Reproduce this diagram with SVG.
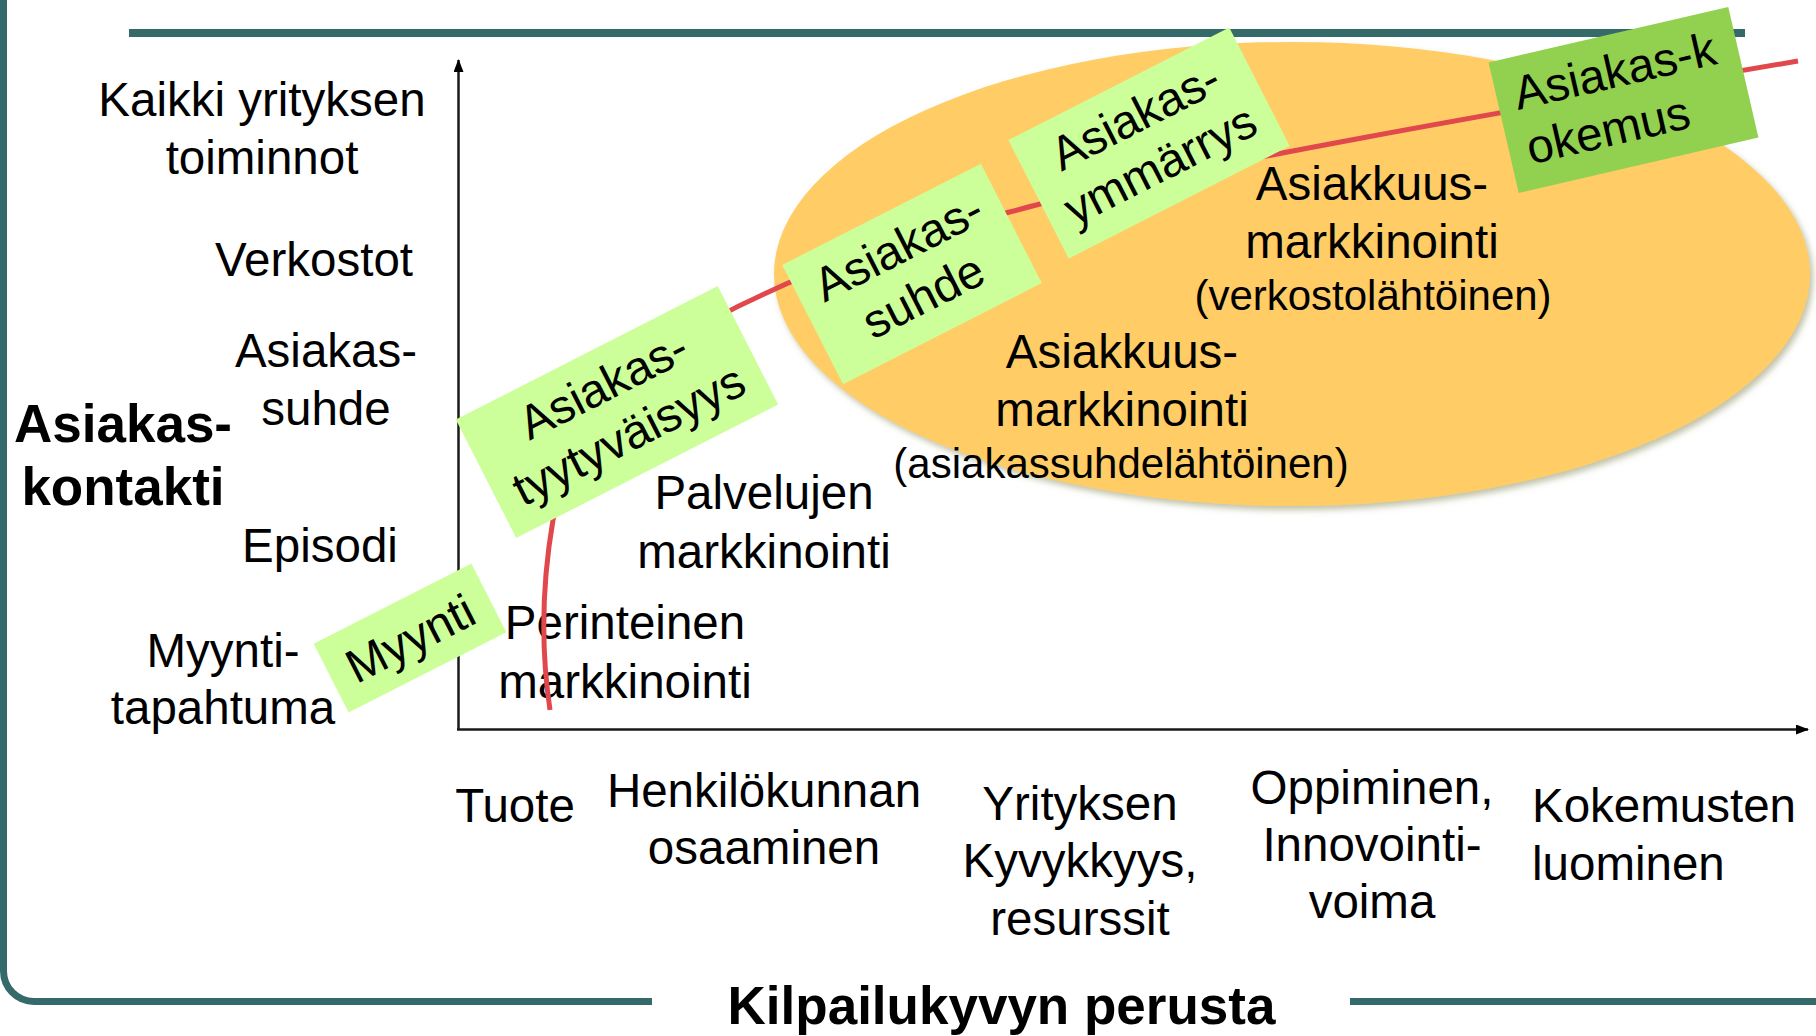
<svg xmlns="http://www.w3.org/2000/svg" width="1816" height="1036" viewBox="0 0 1816 1036">
<style>
text{font-family:"Liberation Sans",Arial,sans-serif;fill:#000;}
.t{font-size:47.5px;}
.m{text-anchor:middle;}
.b{font-size:53px;font-weight:bold;}
.s{font-size:42px;}
.frame{fill:none;stroke:#356A6A;stroke-width:7;}
.axis{fill:none;stroke:#1a1a1a;stroke-width:2.5;}
.box{fill:#CCFF99;}
.box2{fill:#92D050;}
.curve{fill:none;stroke:#E0484B;stroke-width:5;stroke-linecap:butt;}
</style>
<defs>
<marker id="arr" markerWidth="13" markerHeight="10" refX="12" refY="5" orient="auto" markerUnits="userSpaceOnUse">
<path d="M0,0 L13,5 L0,10 z" fill="#000"/>
</marker>
<filter id="sh" x="-5%" y="-5%" width="112%" height="115%">
<feDropShadow dx="3" dy="4" stdDeviation="3" flood-color="#8C9060" flood-opacity="0.55"/>
</filter>
</defs>
<rect width="1816" height="1036" fill="#fff"/>

<g id="frame">
<path class="frame" d="M3.5,0 L3.5,971 A30.5,30.5 0 0 0 34,1001.5 L652,1001.5"/>
<path class="frame" d="M1350,1001.5 L1816,1001.5"/>
<path class="frame" style="stroke-width:8" d="M129,33 L1745,33"/>
</g>

<g id="ellipse">
<ellipse cx="1292" cy="274" rx="518" ry="232" fill="#FFCC66" filter="url(#sh)"/>
</g>

<g id="connectors">
<path id="y-axis" class="axis" d="M458.5,730 L458.5,60" marker-end="url(#arr)"/>
<path id="x-axis" class="axis" d="M457,729.5 L1808,729.5" marker-end="url(#arr)"/>
</g>

<g id="y-labels">
<g id="lbl-kaikki"><text class="t m" x="262" y="116">Kaikki yrityksen</text><text class="t m" x="262" y="174">toiminnot</text></g>
<g id="lbl-verkostot"><text class="t m" x="314" y="276">Verkostot</text></g>
<g id="lbl-asiakassuhde"><text class="t m" x="326" y="367">Asiakas-</text><text class="t m" x="326" y="425">suhde</text></g>
<g id="lbl-asiakaskontakti"><text class="b m" x="123" y="442">Asiakas-</text><text class="b m" x="123" y="505">kontakti</text></g>
<g id="lbl-episodi"><text class="t m" x="320" y="562">Episodi</text></g>
<g id="lbl-myyntitapahtuma"><text class="t m" x="223" y="667">Myynti-</text><text class="t m" x="223" y="724">tapahtuma</text></g>
</g>

<g id="x-labels">
<g id="lbl-tuote"><text class="t m" x="515" y="822">Tuote</text></g>
<g id="lbl-henkilokunnan"><text class="t m" x="764" y="807">Henkilökunnan</text><text class="t m" x="764" y="864">osaaminen</text></g>
<g id="lbl-yrityksen"><text class="t m" x="1080" y="820">Yrityksen</text><text class="t m" x="1080" y="877">Kyvykkyys,</text><text class="t m" x="1080" y="935">resurssit</text></g>
<g id="lbl-oppiminen"><text class="t m" x="1372" y="804">Oppiminen,</text><text class="t m" x="1372" y="861">Innovointi-</text><text class="t m" x="1372" y="918">voima</text></g>
<g id="lbl-kokemusten"><text class="t" x="1532" y="822">Kokemusten</text><text class="t" x="1532" y="880">luominen</text></g>
<g id="title"><text class="b m" x="1001.5" y="1024">Kilpailukyvyn perusta</text></g>
</g>

<g id="area-labels">
<g id="lbl-perinteinen"><text class="t m" x="625" y="639">Perinteinen</text><text class="t m" x="625" y="698">markkinointi</text></g>
<g id="lbl-palvelujen"><text class="t m" x="764" y="509">Palvelujen</text><text class="t m" x="764" y="568">markkinointi</text></g>
<g id="lbl-verkosto"><text class="t m" x="1372" y="200">Asiakkuus-</text><text class="t m" x="1372" y="258">markkinointi</text><text class="s m" x="1373" y="310">(verkostolähtöinen)</text></g>
<g id="lbl-asiakassuhdelahtoinen"><text class="t m" x="1122" y="368">Asiakkuus-</text><text class="t m" x="1122" y="426">markkinointi</text><text class="s m" x="1121" y="478">(asiakassuhdelähtöinen)</text></g>
</g>

<g id="curve">
<path class="curve" d="M550,710 C541,650 541,590 553,520 C575,420 640,350 760,296 C850,252 950,228 1040,204 C1200,165 1500,112 1798,61"/>
</g>

<g id="box-myynti" transform="translate(410,638) rotate(-27)">
<rect class="box" x="-88.5" y="-38.5" width="177" height="77"/>
<text class="t m" x="0" y="17">Myynti</text>
</g>
<g id="box-tyytyvaisyys" transform="translate(617,412) rotate(-27)">
<rect class="box" x="-147" y="-66.5" width="294" height="133"/>
<text class="t m" x="0" y="-14">Asiakas-</text>
<text class="t m" x="0" y="42">tyytyväisyys</text>
</g>
<g id="box-suhde" transform="translate(912,274) rotate(-27)">
<rect class="box" x="-111.5" y="-67" width="223" height="134"/>
<text class="t m" x="0" y="-14">Asiakas-</text>
<text class="t m" x="0" y="41">suhde</text>
</g>
<g id="box-ymmarrys" transform="translate(1149,143) rotate(-27)">
<rect class="box" x="-124" y="-66.5" width="248" height="133"/>
<text class="t m" x="0" y="-14">Asiakas-</text>
<text class="t m" x="0" y="41">ymmärrys</text>
</g>
<g id="box-kokemus" transform="translate(1623.5,100) rotate(-13)">
<rect class="box2" x="-123" y="-67" width="246" height="134"/>
<text class="t" x="-105" y="-14">Asiakas-k</text>
<text class="t" x="-105" y="42">okemus</text>
</g>
</svg>
